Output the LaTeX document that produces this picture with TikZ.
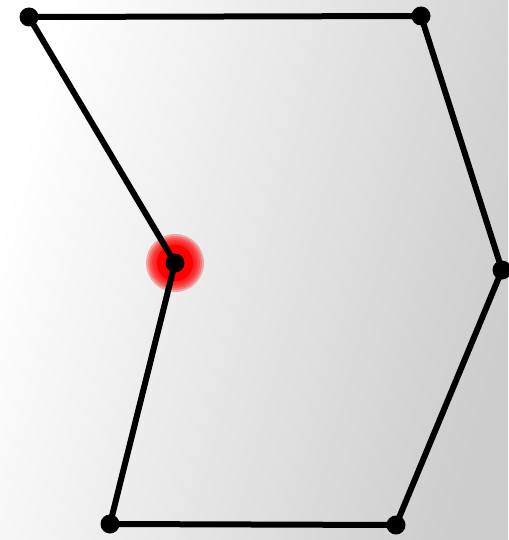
\documentclass[tikz,border=0pt]{standalone}
\definecolor{bgdark}{RGB}{205,205,205}
\tikzset{
  edge/.style={line width=6pt, black, line join=round},
  vertex/.style={circle, fill=black, inner sep=0pt, minimum size=19pt},
  glowring/.style={fill=red, opacity=0.3},
}
\begin{document}
\begin{tikzpicture}[x=1pt,y=-1pt]
\useasboundingbox (0,0) rectangle (508,540);
\shade[left color=white, right color=bgdark, shading angle=75] (0,0) rectangle (508,540);
\coordinate (a) at (29,17);
\coordinate (b) at (421,16);
\coordinate (c) at (502,270);
\coordinate (d) at (396,525);
\coordinate (e) at (110,524);
\coordinate (f) at (175,263);
\foreach \r in {29,27,...,19} \fill[glowring] (f) circle (\r);
\fill[red] (f) circle (18);
\draw[edge] (a) -- (b) -- (c) -- (d) -- (e) -- (f) -- cycle;
\foreach \p in {a,b,c,d,e,f} \node[vertex] (v\p) at (\p) {};
\end{tikzpicture}
\end{document}
